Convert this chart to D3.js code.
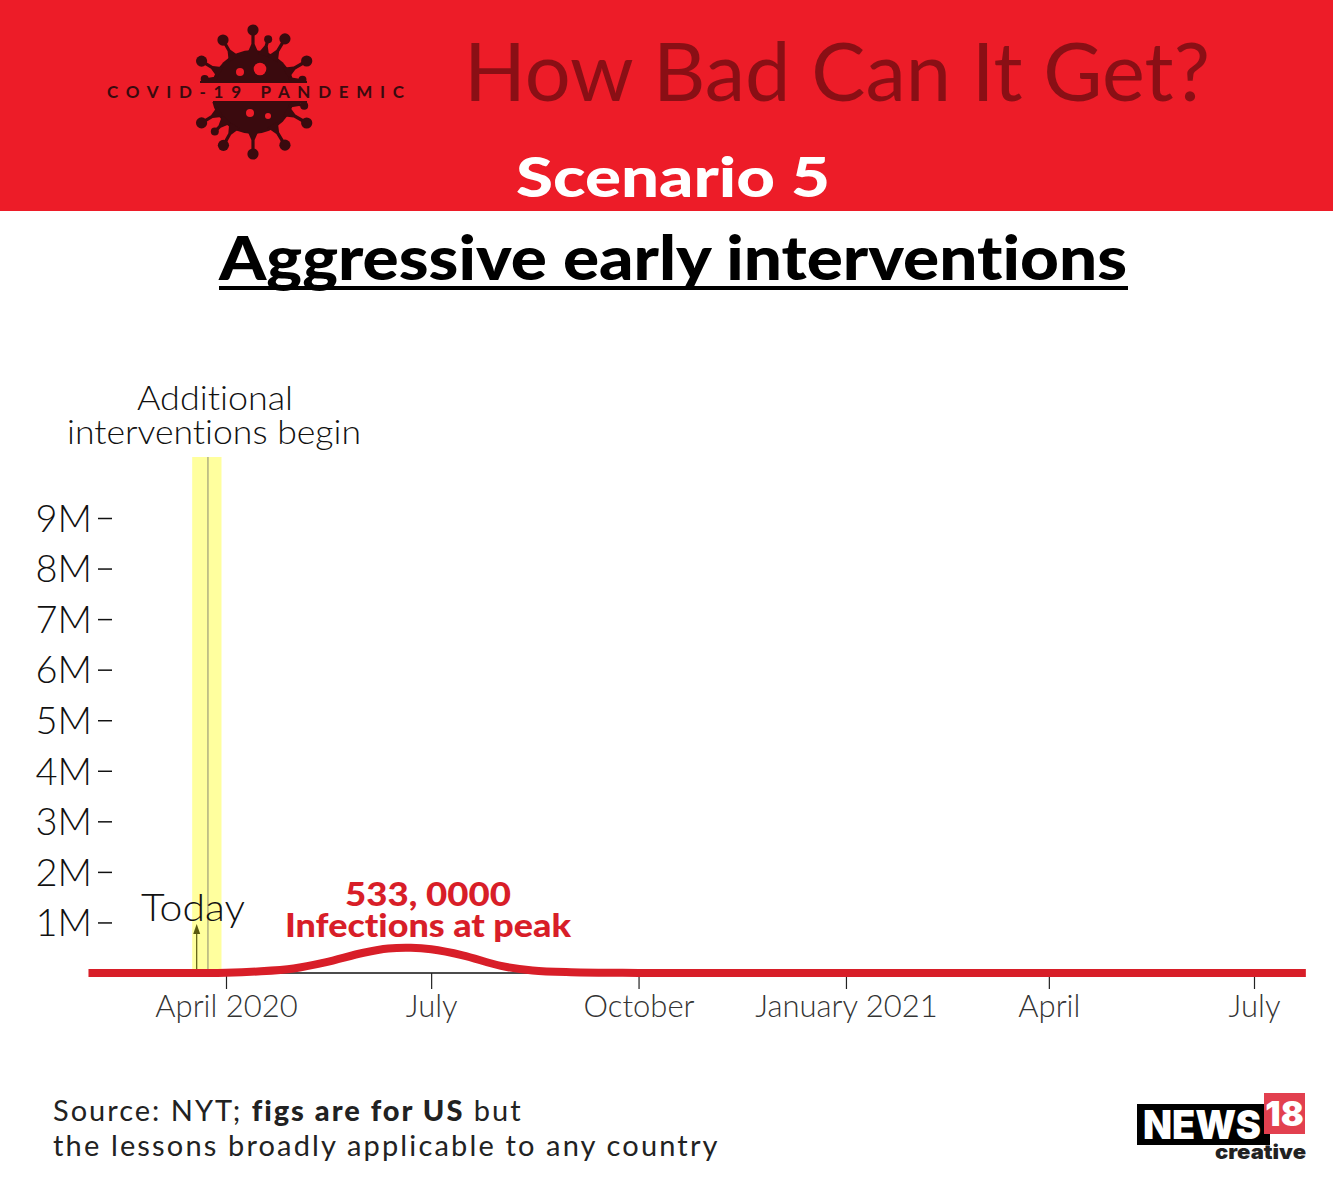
<!DOCTYPE html>
<html><head><meta charset="utf-8">
<script src="https://cdn.jsdelivr.net/npm/d3@7"></script>
<style>html,body{margin:0;padding:0;background:#fff}svg{display:block}text{font-family:Lato,sans-serif;font-variant-ligatures:none}</style>
</head><body><svg id="c" width="1333" height="1200"></svg>
<script>
const yTicks=[1,2,3,4,5,6,7,8,9];
const xTickDates=["2020-04-01","2020-07-01","2020-10-01","2021-01-01","2021-04-01","2021-07-01"];
const xTickLabels=["April 2020","July","October","January 2021","April","July"];
const curveDates=["2020-01-31","2020-03-01","2020-03-20","2020-04-01","2020-04-15","2020-05-01","2020-05-15","2020-06-01","2020-06-12","2020-06-22","2020-07-01","2020-07-15","2020-08-01","2020-08-15","2020-09-01","2020-10-01","2021-01-01","2021-04-01","2021-07-01","2021-07-24"];
const curveValues=[0,0,0,0.004,0.03,0.09,0.21,0.40,0.485,0.5,0.47,0.35,0.14,0.05,0.015,0.002,0,0,0,0];
const todayDate="2020-03-19";
const interventionDate="2020-03-24";
const bandDates=["2020-03-17","2020-03-30"];
const spikeAngles=[-90,-74,-59,-30,-14,15,30,59,90,119,134,149,-149,-165,-120];
const spikeRadii=[62,55,62,62,51,53,62,62,62,61,55,60,60,50,60];

const parse=d3.utcParse("%Y-%m-%d");
const svg=d3.select("#c");
const x=d3.scaleUtc().domain([parse("2020-04-01"),parse("2021-07-01")]).range([226,1254]);
const y=d3.scaleLinear().domain([0,9]).range([973,518]);

// header
svg.append("rect").attr("width",1333).attr("height",211).attr("fill","#ed1c28");
// virus logo
const dark="#3a0a0e", red="#ed1c28";
const logo=svg.append("g").attr("transform","translate(253,92)");
logo.append("circle").attr("r",42).attr("fill",dark);
spikeAngles.forEach((a,i)=>{
  const r=a*Math.PI/180,l=spikeRadii[i],big=l>=60;
  const dx=Math.cos(r),dy=Math.sin(r),nx=-dy,ny=dx;
  const pts=[[dx*38+nx*6,dy*38+ny*6],[dx*48+nx*1.6,dy*48+ny*1.6],[dx*l+nx*1.6,dy*l+ny*1.6],[dx*l-nx*1.6,dy*l-ny*1.6],[dx*48-nx*1.6,dy*48-ny*1.6],[dx*38-nx*6,dy*38-ny*6]];
  logo.append("path").attr("d",d3.line()(pts)+"Z").attr("fill",dark);
  logo.append("circle").attr("cx",dx*l).attr("cy",dy*l).attr("r",big?5.6:4).attr("fill",dark);
});
[[7,-23,6.3],[-13,-20,4],[-3,21,4],[15,24,3]].forEach(d=>logo.append("circle").attr("cx",d[0]).attr("cy",d[1]).attr("r",d[2]).attr("fill",red));
svg.append("rect").attr("x",190).attr("y",82).attr("width",130).attr("height",20).attr("fill",red);
svg.append("rect").attr("x",200).attr("y",81).attr("width",107).attr("height",2).attr("fill",dark);
svg.append("rect").attr("x",213).attr("y",101).attr("width",94).attr("height",2).attr("fill",dark);
svg.append("text").attr("x",107).attr("y",98).attr("font-size",17).attr("font-weight",700).attr("fill",dark).attr("textLength",297).text("COVID-19 PANDEMIC");

svg.append("text").attr("x",837).attr("y",101).attr("text-anchor","middle").attr("font-size",82).attr("font-weight",400).attr("fill","#8a0f15").attr("textLength",746).attr("lengthAdjust","spacingAndGlyphs").text("How Bad Can It Get?");
svg.append("text").attr("x",673).attr("y",197).attr("text-anchor","middle").attr("font-size",56).attr("font-weight",900).attr("fill","#fff").attr("textLength",314).attr("lengthAdjust","spacingAndGlyphs").text("Scenario 5");
svg.append("text").attr("x",673).attr("y",280).attr("text-anchor","middle").attr("font-size",60).attr("font-weight",900).attr("fill","#000").attr("textLength",908).attr("lengthAdjust","spacingAndGlyphs").text("Aggressive early interventions");
svg.append("rect").attr("x",219).attr("y",286).attr("width",909).attr("height",4).attr("fill","#000");

// annotation
svg.append("text").attr("x",215).attr("y",410).attr("text-anchor","middle").attr("font-size",34).attr("font-weight",300).attr("fill","#111").attr("textLength",156).attr("lengthAdjust","spacingAndGlyphs").text("Additional");
svg.append("text").attr("x",214).attr("y",444).attr("text-anchor","middle").attr("font-size",34).attr("font-weight",300).attr("fill","#111").attr("textLength",294).attr("lengthAdjust","spacingAndGlyphs").text("interventions begin");

// band
svg.append("rect").attr("x",x(parse(bandDates[0]))).attr("y",457).attr("width",x(parse(bandDates[1]))-x(parse(bandDates[0]))).attr("height",516).attr("fill","#ffff9e");
svg.append("line").attr("x1",x(parse(interventionDate))).attr("x2",x(parse(interventionDate))).attr("y1",457).attr("y2",973).attr("stroke","#8a8a70").attr("stroke-width",1);

// y axis
const yg=svg.append("g").attr("transform","translate(112,0)").call(d3.axisLeft(y).tickValues(yTicks).tickSize(14).tickPadding(6).tickFormat(d=>d+"M"));
yg.select(".domain").remove();
yg.selectAll("line").attr("stroke","#111").attr("stroke-width",1.5);
yg.selectAll("text").attr("font-size",38).attr("font-weight",300).attr("font-family","Lato,sans-serif").attr("fill","#111").attr("dy","0.35em");

// x axis
const xg=svg.append("g").attr("transform","translate(0,973)").call(d3.axisBottom(x).tickValues(xTickDates.map(parse)).tickSize(16).tickPadding(6).tickFormat((d,i)=>xTickLabels[i]));
xg.select(".domain").attr("d","M90,0H1305").attr("stroke","#111").attr("stroke-width",1.5);
xg.selectAll("line").attr("stroke","#222").attr("stroke-width",1.2);
xg.selectAll("text").attr("font-size",31).attr("font-weight",300).attr("font-family","Lato,sans-serif").attr("fill","#333");

// today
const tx=x(parse(todayDate));
svg.append("line").attr("x1",tx).attr("x2",tx).attr("y1",972).attr("y2",930).attr("stroke","#5a5a10").attr("stroke-width",1.2);
svg.append("path").attr("d",d3.line()([[tx-3.5,934],[tx,924],[tx+3.5,934]])+"Z").attr("fill","#5a5a10");
svg.append("text").attr("x",193).attr("y",921).attr("text-anchor","middle").attr("font-size",38).attr("font-weight",300).attr("fill","#111").attr("textLength",104).attr("lengthAdjust","spacingAndGlyphs").text("Today");

// curve
const line=d3.line().x(d=>x(d[0])).y(d=>y(d[1])).curve(d3.curveCatmullRom.alpha(0.5));
svg.append("path").datum(curveDates.map((d,i)=>[parse(d),curveValues[i]])).attr("d",line).attr("fill","none").attr("stroke","#d81e28").attr("stroke-width",8);

// peak label
svg.append("text").attr("x",428).attr("y",906).attr("text-anchor","middle").attr("font-size",33).attr("font-weight",900).attr("fill","#d81e28").attr("textLength",166).attr("lengthAdjust","spacingAndGlyphs").text("533, 0000");
svg.append("text").attr("x",428).attr("y",937).attr("text-anchor","middle").attr("font-size",33).attr("font-weight",900).attr("fill","#d81e28").attr("textLength",286).attr("lengthAdjust","spacingAndGlyphs").text("Infections at peak");

// source
const s1=svg.append("text").attr("x",53).attr("y",1121).attr("font-size",29).attr("fill","#222").attr("font-weight",400).attr("letter-spacing",2);
s1.append("tspan").text("Source: NYT; ");
s1.append("tspan").attr("font-weight",900).text("figs are for US");
s1.append("tspan").text(" but");
svg.append("text").attr("x",53).attr("y",1156).attr("font-size",29).attr("fill","#222").attr("letter-spacing",2.15).text("the lessons broadly applicable to any country");

// logo
svg.append("rect").attr("x",1137).attr("y",1104).attr("width",133).attr("height",41).attr("fill","#000");
svg.append("text").attr("x",1143).attr("y",1139).attr("font-size",40).attr("font-weight",900).attr("fill","#fff").attr("style","font-family:Inter,sans-serif").attr("textLength",118).attr("lengthAdjust","spacingAndGlyphs").text("NEWS");
svg.append("rect").attr("x",1264).attr("y",1093).attr("width",41).attr("height",41).attr("fill","#e2404f");
svg.append("text").attr("x",1284.5).attr("y",1126).attr("text-anchor","middle").attr("font-size",34).attr("font-weight",900).attr("fill","#fff").attr("style","font-family:Inter,sans-serif").text("18");
svg.append("text").attr("x",1215).attr("y",1159).attr("font-size",20).attr("font-weight",900).attr("fill","#222").attr("style","font-family:Inter,sans-serif").attr("textLength",91).attr("lengthAdjust","spacingAndGlyphs").text("creative");
</script></body></html>
